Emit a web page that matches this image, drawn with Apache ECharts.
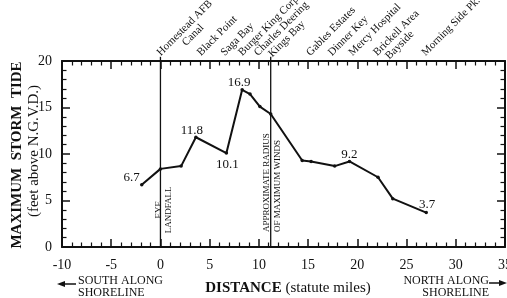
<!DOCTYPE html>
<html>
<head>
<meta charset="utf-8">
<script src="https://cdn.jsdelivr.net/npm/echarts@6/dist/echarts.min.js"></script>
<style>
  html, body { margin: 0; padding: 0; background: #fff; }
  #main { width: 507px; height: 298px; }
</style>
</head>
<body>
<div id="main"></div>
<script>
// distance along the shoreline (statute miles) / maximum storm tide (feet above N.G.V.D.)
var distances = [-1.9, 0, 2.1, 3.6, 6.7, 8.3, 9.1, 10.1, 11.2, 14.4, 15.3, 17.7, 19.2, 22.1, 23.6, 27.0];
var tides = [6.7, 8.4, 8.7, 11.8, 10.1, 16.9, 16.45, 15.1, 14.3, 9.3, 9.2, 8.7, 9.2, 7.5, 5.2, 3.7];
// points that carry their value as a label
var labelledIdx = [0, 3, 4, 5, 12, 15];

// axis ranges / ticks
var xTicks = [-10, 35, 5];
var yTicks = [0, 20, 5];

// vertical reference lines (miles)
var eyeMile = 0;
var rmwMile = 11.2;

// place names along the top (first line, optional second line) and the mile where they start
var placeNames = [
  ['Homestead AFB', 'Canal'],
  ['Black Point'],
  ['Saga Bay'],
  ['Burger King Corp.'],
  ['Charles Deering', 'Kings Bay'],
  ['Gables Estates'],
  ['Dinner Key'],
  ['Mercy Hospital'],
  ['Brickell Area', 'Bayside'],
  ['Morning Side Pk.']
];
var placeMiles = [-0.3, 3.8, 6.2, 8.0, 9.6, 14.9, 17.1, 19.2, 21.7, 26.6];

var serif = '"Liberation Serif", "DejaVu Serif", serif';
var ink = '#111';

// label offsets (px) for the value labels, same order as labelledIdx
var labelOffsets = [[-10, -7], [-4, -7], [1, 12], [-3, -7], [0, -7], [1, -8]];
// second line shift along the rotated text (px)
var secondLineShift = { 'Canal': 25, 'Kings Bay': 9, 'Bayside': 6 };

var points = distances.map(function (d, i) {
  var item = { value: [d, tides[i]] };
  var k = labelledIdx.indexOf(i);
  if (k >= 0) {
    item.label = {
      show: true,
      position: 'inside',
      offset: labelOffsets[k],
      color: ink,
      fontFamily: serif,
      fontSize: 13,
      formatter: function (p) { return p.value[1].toFixed(1); }
    };
  }
  return item;
});

function axisCommon(showLabel, margin) {
  return {
    axisLine: { show: true, onZero: false, lineStyle: { color: ink, width: 2 } },
    axisTick: { show: true, inside: true, length: 8, lineStyle: { color: ink, width: 1.5 } },
    minorTick: { show: true, splitNumber: 5, length: 4.5, lineStyle: { color: ink, width: 1.2 } },
    splitLine: { show: false },
    axisLabel: { show: showLabel, color: ink, fontFamily: serif, fontSize: 14, margin: margin }
  };
}

function xAxisOf(pos, showLabel) {
  return Object.assign({
    type: 'value', position: pos,
    min: xTicks[0], max: xTicks[1], interval: xTicks[2]
  }, axisCommon(showLabel, 11));
}
function yAxisOf(pos, showLabel) {
  return Object.assign({
    type: 'value', position: pos,
    min: yTicks[0], max: yTicks[1], interval: yTicks[2]
  }, axisCommon(showLabel, 10));
}

function refLine(mile) {
  return {
    type: 'line',
    data: [[mile, yTicks[0]], [mile, yTicks[1] + 0.45]],
    clip: false,
    symbol: 'none',
    silent: true,
    lineStyle: { color: ink, width: 1.3 },
    z: 1
  };
}

var option = {
  animation: false,
  backgroundColor: '#fff',
  grid: { left: 62, right: 2, top: 61, bottom: 51, containLabel: false, outerBoundsMode: 'none' },
  xAxis: [xAxisOf('bottom', true), xAxisOf('top', false)],
  yAxis: [yAxisOf('left', true), yAxisOf('right', false)],
  series: [
    refLine(eyeMile),
    refLine(rmwMile),
    {
      type: 'line',
      data: points,
      symbol: 'circle',
      symbolSize: 3.5,
      showSymbol: true,
      lineStyle: { color: ink, width: 2 },
      itemStyle: { color: ink },
      z: 3
    }
  ]
};

var chart = echarts.init(document.getElementById('main'));
chart.setOption(option);

function px(x, y) {
  return chart.convertToPixel({ xAxisIndex: 0, yAxisIndex: 0 }, [x, y]);
}

var graphics = [];

// place names, rotated 45 degrees above the top axis
placeNames.forEach(function (names, i) {
  var p = px(placeMiles[i], yTicks[1]);
  var children = [{
    type: 'text', x: 0, y: 0,
    style: { text: names[0], fill: ink, fontFamily: serif, fontSize: 11, align: 'left', verticalAlign: 'bottom' }
  }];
  if (names[1]) {
    children.push({
      type: 'text', x: secondLineShift[names[1]], y: 11,
      style: { text: names[1], fill: ink, fontFamily: serif, fontSize: 11, align: 'left', verticalAlign: 'bottom' }
    });
  }
  graphics.push({ type: 'group', x: p[0] + 5, y: p[1] - 3, rotation: Math.PI / 4, children: children });
});

// reference line notes
var eyeP = px(eyeMile, 4.0);
graphics.push({
  type: 'text', x: eyeP[0] + 3, y: eyeP[1], rotation: Math.PI / 2,
  style: { text: 'EYE\nLANDFALL', fill: ink, fontFamily: serif, fontSize: 9, lineHeight: 10, align: 'center', verticalAlign: 'middle' }
});
var rmwP = px(rmwMile, 1.6);
graphics.push({
  type: 'text', x: rmwP[0] + 1.6, y: rmwP[1], rotation: Math.PI / 2,
  style: { text: 'APPROXIMATE RADIUS\nOF MAXIMUM WINDS', fill: ink, fontFamily: serif, fontSize: 9, lineHeight: 11.5, align: 'left', verticalAlign: 'middle' }
});

// y axis title
graphics.push({
  type: 'text', x: 17, y: 155, rotation: Math.PI / 2,
  style: { text: 'MAXIMUM  STORM  TIDE', fill: ink, fontFamily: serif, fontSize: 15, fontWeight: 'bold', align: 'center', verticalAlign: 'middle' }
});
graphics.push({
  type: 'text', x: 34, y: 151, rotation: Math.PI / 2,
  style: { text: '(feet above N.G.V.D.)', fill: ink, fontFamily: serif, fontSize: 15, align: 'center', verticalAlign: 'middle' }
});

// x axis title and direction notes
graphics.push({
  type: 'text', x: 288, y: 288,
  style: {
    text: '{b|DISTANCE} (statute miles)', fill: ink, fontFamily: serif, fontSize: 15,
    align: 'center', verticalAlign: 'middle',
    rich: { b: { fontWeight: 'bold', fontSize: 15, fontFamily: serif, fill: ink } }
  }
});
graphics.push({
  type: 'text', x: 78, y: 287,
  style: { text: 'SOUTH ALONG\nSHORELINE', fill: ink, fontFamily: serif, fontSize: 12, lineHeight: 12.5, align: 'left', verticalAlign: 'middle' }
});
graphics.push({
  type: 'text', x: 489, y: 287,
  style: { text: 'NORTH ALONG\nSHORELINE', fill: ink, fontFamily: serif, fontSize: 12, lineHeight: 12.5, align: 'right', verticalAlign: 'middle' }
});
// arrows
graphics.push({ type: 'line', shape: { x1: 62, y1: 284, x2: 76, y2: 284 }, style: { stroke: ink, lineWidth: 1.5 } });
graphics.push({ type: 'polygon', shape: { points: [[57, 284], [65, 281], [65, 287]] }, style: { fill: ink } });
graphics.push({ type: 'line', shape: { x1: 489, y1: 283, x2: 500, y2: 283 }, style: { stroke: ink, lineWidth: 1.5 } });
graphics.push({ type: 'polygon', shape: { points: [[507, 283], [499, 280], [499, 286]] }, style: { fill: ink } });

chart.setOption({ graphic: graphics });
</script>
</body>
</html>
